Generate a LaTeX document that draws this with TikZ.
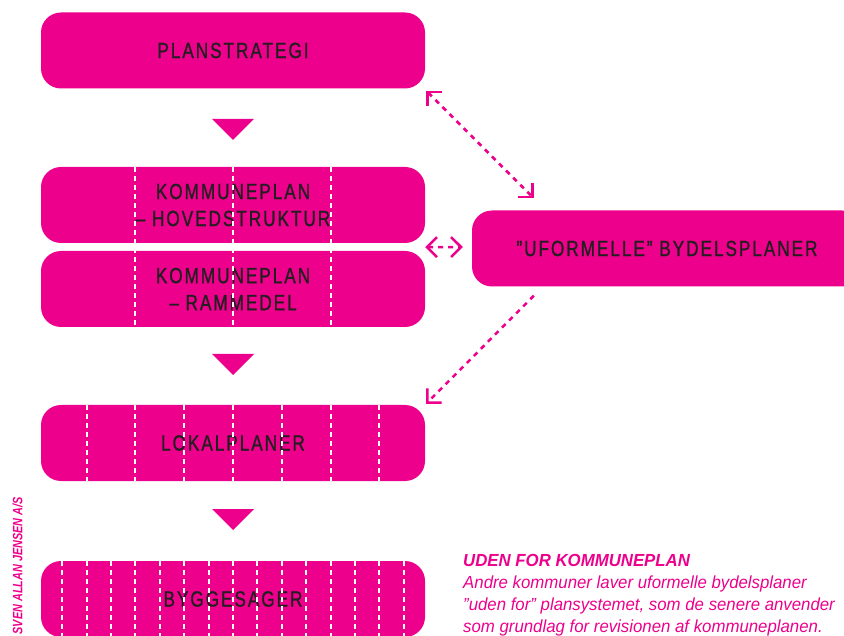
\documentclass[tikz,border=0pt]{standalone}
\usepackage{fontspec}
\setmainfont{Liberation Sans}
\newfontfamily\labelfont{Liberation Sans}[FakeStretch=0.78,LetterSpace=9,FakeBold=1]
\newfontfamily\notefont{Liberation Sans}[FakeStretch=0.96]
\newfontfamily\creditfont{Liberation Sans}[FakeStretch=0.8]
\usetikzlibrary{arrows.meta}
\definecolor{planpink}{RGB}{236,0,140}
\definecolor{planink}{RGB}{35,31,32}

\begin{document}
\begin{tikzpicture}[x=1pt,y=-1pt]
\tikzstyle{every node}+=[inner sep=0pt]
\tikzstyle{plan}=[fill=planpink, rounded corners=20pt, minimum width=384pt, minimum height=76pt, text=planink, align=center, font=\labelfont\fontsize{22}{27}\selectfont]
\tikzstyle{cut}=[white, line width=2pt, dash pattern=on 5pt off 4pt]
\tikzstyle{link}=[planpink, line width=2.5pt, dash pattern=on 5pt off 5pt]
\useasboundingbox (0,0) rectangle (844,636);
\node[plan] (plan) at (233,50.5) {PLANSTRATEGI};
\node[plan] (hoved) at (233,205) {KOMMUNEPLAN\\– HOVEDSTRUKTUR};
\node[plan] (ramme) at (233,289) {KOMMUNEPLAN\\– RAMMEDEL};
\node[plan] (lokal) at (233,443) {LOKALPLANER};
\node[plan] (bygge) at (233,599) {BYGGESAGER};
\node[plan, minimum width=390pt] (bydel) at (667,248.5) {”UFORMELLE” BYDELSPLANER};
\foreach \k in {-1,0,1}
  \draw[cut] ({233+97.6*\k},167) -- ({233+97.6*\k},327);
\foreach \k in {-3,...,3}
  \draw[cut] ({233+48.8*\k},405) -- ({233+48.8*\k},481);
\foreach \k in {-7,...,7}
  \draw[cut] ({233+24.4*\k},561) -- ({233+24.4*\k},640);
\foreach \y in {119,354,509}
  \fill[planpink] (212,\y) -- (254,\y) -- (233,{\y+21}) -- cycle;
\draw[link, {Straight Barb[length=10pt,width=20pt]}-{Straight Barb[length=10pt,width=20pt]}] ([shift={(1,2)}]plan.south east) -- ([shift={(62,-12)}]bydel.north west);
\draw[link, {Straight Barb[length=10pt,width=20pt]}-{Straight Barb[length=10pt,width=20pt]}] ([shift={(0,4)}]hoved.south east) -- ([shift={(-9,-1.5)}]bydel.west);
\draw[link, -{Straight Barb[length=10pt,width=20pt]}] ([shift={(62,9)}]bydel.south west) -- ([shift={(1,-1)}]lokal.north east);
\node[anchor=north west, align=left, text=planpink, font=\notefont\itshape\fontsize{17.5}{22}\selectfont] (note) at (463,554)
  {{\bfseries UDEN FOR KOMMUNEPLAN}\\Andre kommuner laver uformelle bydelsplaner\\”uden for” plansystemet, som de senere anvender\\som grundlag for revisionen af kommuneplanen.};
\node[rotate=90, anchor=east, text=planpink, font=\creditfont\bfseries\itshape\fontsize{13.6}{16}\selectfont] (credit) at (17.5,497) {SVEN ALLAN JENSEN A/S};
\end{tikzpicture}
\end{document}
